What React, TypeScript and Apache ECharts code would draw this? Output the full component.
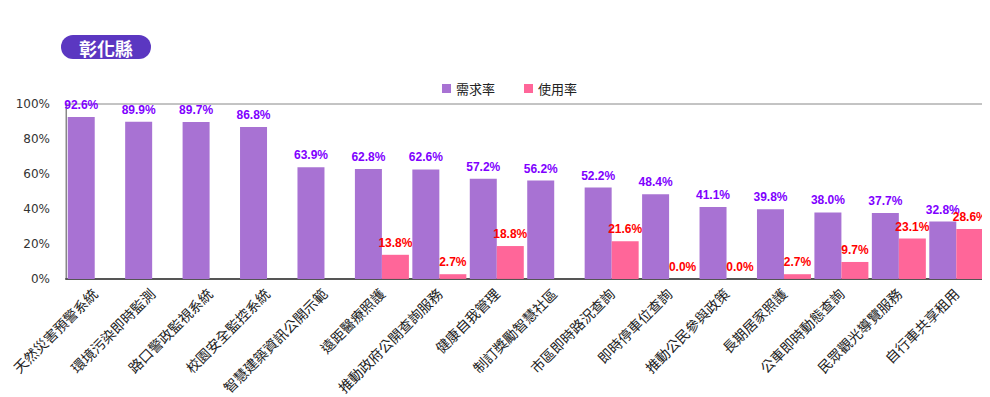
import React, { useEffect, useRef } from "react";
import * as echarts from "echarts";

const categories = [
  "天然災害預警系統",
  "環境污染即時監測",
  "路口警政監視系統",
  "校園安全監控系統",
  "智慧建築資訊公開示範",
  "遠距醫療照護",
  "推動政府公開查詢服務",
  "健康自我管理",
  "制訂獎勵智慧社區",
  "市區即時路況查詢",
  "即時停車位查詢",
  "推動公民參與政策",
  "長期居家照護",
  "公車即時動態查詢",
  "民眾觀光導覽服務",
  "自行車共享租用",
];

const demandRate = [92.6, 89.9, 89.7, 86.8, 63.9, 62.8, 62.6, 57.2, 56.2, 52.2, 48.4, 41.1, 39.8, 38.0, 37.7, 32.8];
const usageRate: (number | null)[] = [null, null, null, null, null, 13.8, 2.7, 18.8, null, 21.6, 0.0, 0.0, 2.7, 9.7, 23.1, 28.6];

const seriesNames = ["需求率", "使用率"];
const titleText = "彰化縣";

export default function App() {
  const ref = useRef<HTMLDivElement>(null);
  useEffect(() => {
    if (!ref.current) return;
    const chart = echarts.init(ref.current, null, { renderer: "svg" });
    const labelFont = {
      fontFamily: "Liberation Sans, Arial, sans-serif",
      fontSize: 12,
      fontWeight: "bold" as const,
    };
    chart.setOption({
      animation: false,
      backgroundColor: "#ffffff",
      title: {
        text: titleText,
        left: 53,
        top: 27,
        backgroundColor: "#5b37c1",
        borderRadius: 12,
        padding: [3, 18, 2, 18],
        textStyle: {
          color: "#ffffff",
          fontSize: 18,
          fontWeight: "bold",
          lineHeight: 19,
          fontFamily: "Noto Sans CJK TC, sans-serif",
        },
      },
      legend: {
        data: seriesNames,
        left: 429,
        top: 69,
        icon: "rect",
        itemWidth: 9,
        itemHeight: 9,
        itemGap: 29,
        textStyle: {
          color: "#222",
          fontSize: 13,
          fontFamily: "Noto Sans CJK TC, sans-serif",
        },
      },
      grid: {
        left: 58,
        right: 5,
        top: 96,
        bottom: 117,
        show: true,
        borderColor: "#888888",
        borderWidth: 1,
      },
      xAxis: {
        type: "category",
        data: categories,
        axisLine: { lineStyle: { color: "#555555", width: 2 } },
        axisTick: { show: false },
        axisLabel: {
          rotate: 45,
          interval: 0,
          margin: 12,
          color: "#222",
          fontSize: 14,
          fontFamily: "Noto Sans CJK TC, sans-serif",
        },
      },
      yAxis: {
        type: "value",
        min: 0,
        max: 100,
        interval: 20,
        axisLine: { show: true, lineStyle: { color: "#888888" } },
        axisTick: { show: false },
        splitLine: { show: false },
        axisLabel: {
          formatter: "{value}%",
          color: "#333",
          fontSize: 12,
          margin: 16,
          fontFamily: "DejaVu Sans, sans-serif",
        },
      },
      series: [
        {
          name: seriesNames[0],
          type: "bar",
          data: demandRate,
          barWidth: 27,
          barGap: "0%",
          itemStyle: { color: "#a872d3" },
          label: {
            show: true,
            position: "top",
            distance: 6,
            color: "#8000ff",
            ...labelFont,
            formatter: (p: any) => Number(p.value).toFixed(1) + "%",
          },
        },
        {
          name: seriesNames[1],
          type: "bar",
          data: usageRate,
          barWidth: 27,
          barGap: "0%",
          itemStyle: { color: "#ff6699" },
          label: {
            show: true,
            position: "top",
            distance: 6,
            color: "#ff0000",
            ...labelFont,
            formatter: (p: any) => Number(p.value).toFixed(1) + "%",
          },
        },
      ],
    });
    return () => chart.dispose();
  }, []);
  return <div ref={ref} style={{ width: 982, height: 389 }} />;
}
